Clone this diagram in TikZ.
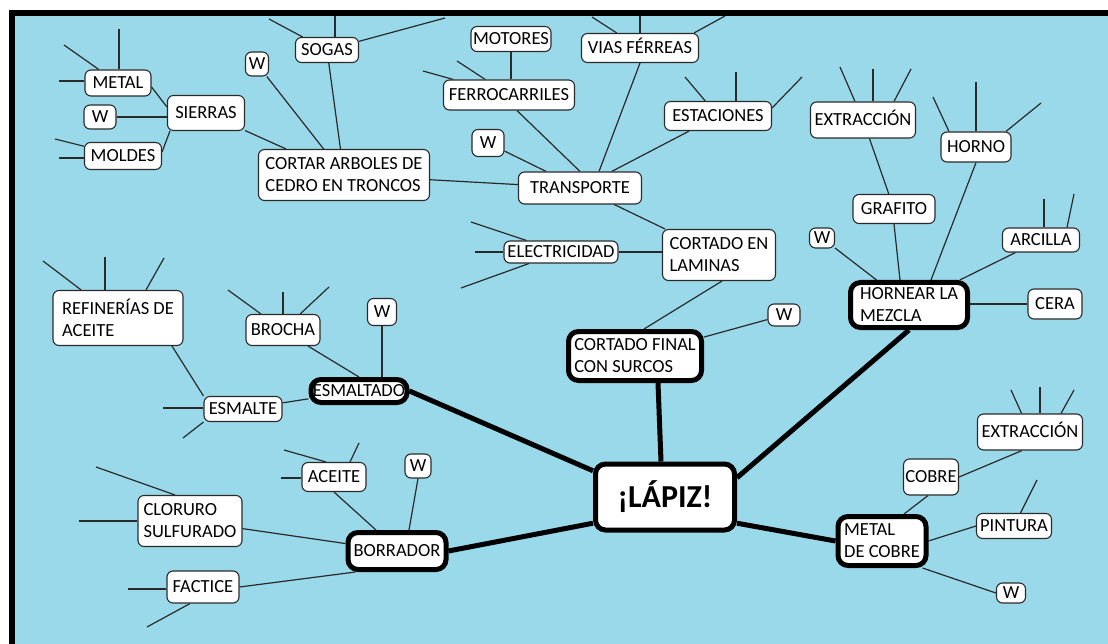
\documentclass[tikz,border=0pt]{standalone}
\usepackage{fontspec}
\setmainfont{Carlito}
\usetikzlibrary{calc}
\definecolor{skyb}{HTML}{99D9EA}
\definecolor{lnc}{HTML}{2A2A2A}
\pgfdeclarelayer{background}
\pgfsetlayers{background,main}
\begin{document}
\begin{tikzpicture}[x=1pt,y=-1pt,
  box/.style={draw=lnc, fill=white, line width=1.1pt, rounded corners=6pt, inner sep=1pt,
              font=\fontsize{18.5}{22}\selectfont, text=black},
  sbox/.style={box, text height=11.9pt, text depth=0pt},
  mbox/.style={box, align=left},
  bbox/.style={draw=black, fill=white, line width=5pt, rounded corners=10pt, inner sep=0pt,
               font=\fontsize{18.5}{22}\selectfont, align=left, text=black},
  conn/.style={draw=lnc, line width=1.2pt},
  bconn/.style={draw=black, line width=5pt}
]
\useasboundingbox (0,0) rectangle (1108,644);

% ---------- nodes ----------
\node[sbox, minimum width=66pt, minimum height=26pt] (metal) at (118,83) {METAL};
\node[sbox, minimum width=32pt, minimum height=24pt] (wsierra) at (100,117) {W};
\node[sbox, minimum width=77pt, minimum height=35pt] (sierras) at (206,113) {SIERRAS};
\node[sbox, minimum width=77pt, minimum height=27pt] (moldes) at (123,156) {MOLDES};
\node[sbox, minimum width=23pt, minimum height=24pt] (wcortar) at (257,64) {W};
\node[sbox, minimum width=63pt, minimum height=25pt] (sogas) at (327,50) {SOGAS};
\node[mbox, minimum width=171pt, minimum height=51pt] (cortar) at (344,175) {CORTAR ARBOLES DE\\CEDRO EN TRONCOS};
\node[sbox, minimum width=80pt, minimum height=25pt] (motores) at (511,39) {MOTORES};
\node[sbox, minimum width=117pt, minimum height=29pt] (vias) at (640,48) {VIAS FÉRREAS};
\node[sbox, minimum width=131pt, minimum height=30pt] (ferro) at (509,95) {FERROCARRILES};
\node[sbox, minimum width=107pt, minimum height=29pt] (estaciones) at (718,116) {ESTACIONES};
\node[sbox, minimum width=32pt, minimum height=27pt] (wtrans) at (488,143) {W};
\node[sbox, minimum width=123pt, minimum height=32pt] (transporte) at (580,188) {TRANSPORTE};
\node[sbox, minimum width=114pt, minimum height=22pt] (electricidad) at (561,252) {ELECTRICIDAD};
\node[mbox, minimum width=113pt, minimum height=51pt] (laminas) at (719,255) {CORTADO EN\\LAMINAS};
\node[sbox, minimum width=32pt, minimum height=22pt] (wfinal) at (784,315) {W};
\node[sbox, minimum width=105pt, minimum height=36pt] (extr1) at (863,120) {EXTRACCIÓN};
\node[sbox, minimum width=70pt, minimum height=30pt] (horno) at (976,147) {HORNO};
\node[sbox, minimum width=82pt, minimum height=29pt] (grafito) at (894,209) {GRAFITO};
\node[sbox, minimum width=25pt, minimum height=20pt] (whorn) at (822,238) {W};
\node[sbox, minimum width=77pt, minimum height=24pt] (arcilla) at (1041,240) {ARCILLA};
\node[sbox, minimum width=54pt, minimum height=30pt] (cera) at (1055,304) {CERA};
\node[mbox, minimum width=130pt, minimum height=55pt] (refin) at (118,318) {REFINERÍAS DE\\ACEITE};
\node[sbox, minimum width=74pt, minimum height=31pt] (brocha) at (283,330) {BROCHA};
\node[sbox, minimum width=29pt, minimum height=27pt] (wesm) at (382,312) {W};
\node[sbox, minimum width=78pt, minimum height=25pt] (esmalte) at (243,409) {ESMALTE};
\node[sbox, minimum width=64pt, minimum height=29pt] (aceite) at (334,477) {ACEITE};
\node[sbox, minimum width=26pt, minimum height=24pt] (wborr) at (418,466) {W};
\node[mbox, minimum width=104pt, minimum height=51pt] (cloruro) at (190,521) {CLORURO\\SULFURADO};
\node[sbox, minimum width=72pt, minimum height=32pt] (factice) at (203,587) {FACTICE};
\node[sbox, minimum width=55pt, minimum height=36pt] (cobre) at (931,477) {COBRE};
\node[sbox, minimum width=105pt, minimum height=36pt] (extr2) at (1030,432) {EXTRACCIÓN};
\node[sbox, minimum width=75pt, minimum height=25pt] (pintura) at (1014,526) {PINTURA};
\node[sbox, minimum width=29pt, minimum height=20pt] (wmetal) at (1011,593) {W};

\node[bbox, minimum width=139pt, minimum height=66pt, font=\fontsize{32}{38}\selectfont\bfseries] (lapiz) at (665,497) {¡LÁPIZ!};
\node[bbox, minimum width=133pt, minimum height=49pt] (final) at (635,356) {CORTADO FINAL\\CON SURCOS};
\node[bbox, minimum width=117pt, minimum height=45pt] (hornear) at (909,305) {HORNEAR LA\\MEZCLA};
\node[bbox, minimum width=96pt, minimum height=23pt] (esmaltado) at (359,391) {ESMALTADO};
\node[bbox, minimum width=98pt, minimum height=37pt] (borrador) at (397,551) {BORRADOR};
\node[bbox, minimum width=88pt, minimum height=49pt] (metalcobre) at (882,541) {METAL\\DE COBRE};

% ---------- free ends ----------
\coordinate (m1) at (64,45);   \coordinate (m2) at (119,29);  \coordinate (m3) at (59,81);
\coordinate (mo1) at (55,139); \coordinate (mo2) at (59,158);
\coordinate (so1) at (269,19); \coordinate (so2) at (335,16); \coordinate (so3) at (445,18);
\coordinate (fe1) at (423,71); \coordinate (fe2) at (457,61);
\coordinate (vi1) at (592,17); \coordinate (vi2) at (640,16); \coordinate (vi3) at (725,16);
\coordinate (es1) at (685,77); \coordinate (es2) at (736,72); \coordinate (es3) at (802,77);
\coordinate (ex1) at (840,67); \coordinate (ex2) at (873,69); \coordinate (ex3) at (911,69);
\coordinate (ho1) at (933,97); \coordinate (ho2) at (976,82); \coordinate (ho3) at (1041,103);
\coordinate (ar1) at (1044,199); \coordinate (ar2) at (1074,194);
\coordinate (re1) at (43,261); \coordinate (re2) at (105,257); \coordinate (re3) at (164,258);
\coordinate (br1) at (228,290); \coordinate (br2) at (283,292); \coordinate (br3) at (329,287);
\coordinate (em1) at (163,408); \coordinate (em2) at (183,438);
\coordinate (ac1) at (284,450); \coordinate (ac2) at (359,443); \coordinate (ac3) at (281,478);
\coordinate (cl1) at (96,467);  \coordinate (cl2) at (79,521);
\coordinate (fa1) at (128,589); \coordinate (fa2) at (147,627);
\coordinate (el1) at (471,222); \coordinate (el2) at (475,252); \coordinate (el3) at (461,288);
\coordinate (ey1) at (1011,390); \coordinate (ey2) at (1040,387); \coordinate (ey3) at (1074,390);
\coordinate (pi1) at (1037,480);

% ---------- background and connectors ----------
\begin{pgfonlayer}{background}
\fill[white] (0,0) rectangle (1108,644);
\fill[skyb] (15,16) rectangle (1108,644);
\fill[black] (9,10) rectangle (1108,16);
\fill[black] (9,10) rectangle (15,644);

\draw[conn] (m1) -- (metal);
\draw[conn] (m2) -- (m2 |- metal.north);
\draw[conn] (m3) -- (m3 -| metal.west);
\draw[conn] ($(metal.east)+(0,4)$) -- ($(sierras.west)+(0,-6)$);
\draw[conn] (wsierra.east) -- (wsierra.east -| sierras.west);
\draw[conn] ($(moldes.east)+(0,-4)$) -- ($(sierras.south west)+(3,0)$);
\draw[conn] (mo1) -- (moldes);
\draw[conn] (mo2) -- (mo2 -| moldes.west);
\draw[conn] (sierras) -- (cortar);
\draw[conn] (wcortar) -- (cortar);
\draw[conn] (sogas) -- (cortar);
\draw[conn] (so1) -- (sogas);
\draw[conn] (so2) -- (so2 |- sogas.north);
\draw[conn] (so3) -- (sogas);
\draw[conn] (cortar) -- (transporte);
\draw[conn] (motores.south) -- (motores.south |- ferro.north);
\draw[conn] (fe1) -- (ferro);
\draw[conn] (fe2) -- (ferro);
\draw[conn] ($(ferro.south)+(8,0)$) -- (transporte.north);
\draw[conn] (vias.south) -- ($(transporte.north)+(19,0)$);
\draw[conn] (vi1) -- (vias);
\draw[conn] (vi2) -- (vi2 |- vias.north);
\draw[conn] (vi3) -- ($(vias.north east)+(-5,0)$);
\draw[conn] (es1) -- (estaciones);
\draw[conn] (es2) -- (es2 |- estaciones.north);
\draw[conn] (es3) -- ($(estaciones.east)+(0,-8)$);
\draw[conn] (estaciones) -- (transporte);
\draw[conn] (wtrans) -- (transporte);
\draw[conn] (transporte) -- (laminas);
\draw[conn] (el1) -- (electricidad);
\draw[conn] (el2) -- (el2 -| electricidad.west);
\draw[conn] (el3) -- (electricidad);
\draw[conn] (electricidad.east) -- (electricidad.east -| laminas.west);
\draw[conn] ($(laminas.south)+(3,0)$) -- ($(final.north)+(9,0)$);
\draw[conn] (wfinal) -- (final);
\draw[conn] (ex1) -- (extr1);
\draw[conn] (ex2) -- (ex2 |- extr1.north);
\draw[conn] (ex3) -- ($(extr1.north)+(31,0)$);
\draw[conn] (extr1) -- (grafito);
\draw[conn] (ho1) -- ($(horno.north)+(-27,0)$);
\draw[conn] (ho2) -- (horno.north);
\draw[conn] (ho3) -- ($(horno.north)+(30,0)$);
\draw[conn] (horno.south) -- ($(hornear.north)+(22,0)$);
\draw[conn] (grafito.south) -- ($(hornear.north)+(-9,0)$);
\draw[conn] (whorn) -- (hornear);
\draw[conn] (ar1) -- (ar1 |- arcilla.north);
\draw[conn] (ar2) -- ($(arcilla.north)+(26,0)$);
\draw[conn] (arcilla) -- (hornear);
\draw[conn] (cera.west) -- (cera.west -| hornear.east);
\draw[conn] (re1) -- (refin);
\draw[conn] (re2) -- (re2 |- refin.north);
\draw[conn] (re3) -- ($(refin.north)+(28,0)$);
\draw[conn] ($(refin.south)+(54,0)$) -- (esmalte.north west);
\draw[conn] (br1) -- (brocha);
\draw[conn] (br2) -- (brocha.north);
\draw[conn] (br3) -- (brocha);
\draw[conn] ($(brocha.south)+(25,0)$) -- (esmaltado.north);
\draw[conn] (wesm.south) -- (wesm.south |- esmaltado.north);
\draw[conn] (em1) -- (em1 -| esmalte.west);
\draw[conn] (em2) -- (esmalte.south west);
\draw[conn] (esmalte) -- (esmaltado);
\draw[conn] (ac1) -- ($(aceite.north)+(-8,0)$);
\draw[conn] (ac2) -- ($(aceite.north)+(16,0)$);
\draw[conn] (ac3) -- (ac3 -| aceite.west);
\draw[conn] (aceite.south) -- ($(borrador.north)+(-21,0)$);
\draw[conn] (wborr.south) -- ($(borrador.north)+(12,0)$);
\draw[conn] (cl1) -- ($(cloruro.north)+(-15,0)$);
\draw[conn] (cl2) -- (cl2 -| cloruro.west);
\draw[conn] (cloruro) -- (borrador);
\draw[conn] (factice.east) -- ($(borrador.south west)+(10,0)$);
\draw[conn] (fa1) -- (fa1 -| factice.west);
\draw[conn] (fa2) -- ($(factice.south)+(-13,0)$);
\draw[conn] ($(cobre.south)+(-3,0)$) -- ($(metalcobre.north)+(22,0)$);
\draw[conn] (cobre.east) -- ($(extr2.south)+(-8,0)$);
\draw[conn] (ey1) -- (extr2);
\draw[conn] (ey2) -- (ey2 |- extr2.north);
\draw[conn] (ey3) -- ($(extr2.north)+(31,0)$);
\draw[conn] (pi1) -- (pintura);
\draw[conn] (metalcobre.east) -- (pintura.west);
\draw[conn] ($(metalcobre.south east)+(-6,0)$) -- (wmetal.west);

\draw[bconn] ($(final.south)+(23,0)$) -- ($(lapiz.north)+(-4,0)$);
\draw[bconn] (esmaltado.east) -- (lapiz.160);
\draw[bconn] (borrador.east) -- (lapiz.200);
\draw[bconn] (lapiz.-20) -- (metalcobre.west);
\draw[bconn] (lapiz.15) -- (hornear.south);
\end{pgfonlayer}
\end{tikzpicture}
\end{document}
